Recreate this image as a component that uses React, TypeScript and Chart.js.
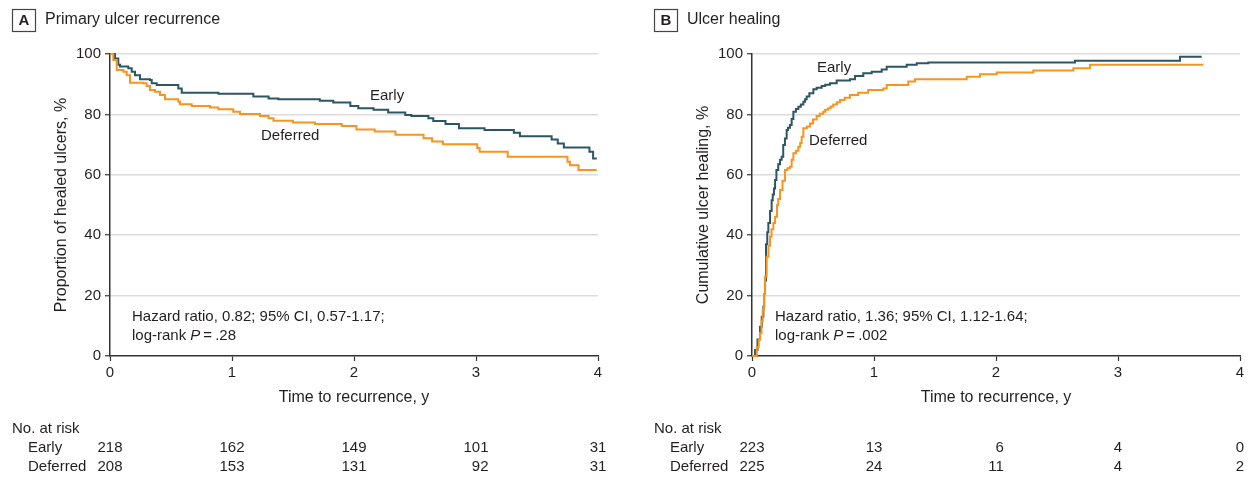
import React, { useEffect, useRef } from 'react';
import { Chart, registerables } from 'chart.js';

Chart.register(...registerables);

const FONT = "'Liberation Sans', Arial, sans-serif";
const TEXT = '#231f20';
const EARLY_COLOR = '#2d5664';
const DEFERRED_COLOR = '#f7941d';

// Panel A: primary ulcer recurrence (proportion of healed ulcers, %)
const recurEarlyT = [0, 0.041, 0.068, 0.082, 0.15, 0.178, 0.205, 0.246, 0.328, 0.342, 0.383, 0.56, 0.588, 0.888, 1.175, 1.3, 1.38, 1.72, 1.83, 1.97, 2.035, 2.16, 2.28, 2.42, 2.47, 2.61, 2.65, 2.75, 2.86, 3.07, 3.31, 3.36, 3.62, 3.67, 3.72, 3.93, 3.96, 3.99];
const recurEarlyV = [100, 98.5, 96.4, 95.9, 95.3, 94.1, 93.0, 91.6, 91.4, 90.3, 89.7, 88.6, 87.2, 86.8, 85.9, 85.3, 85.0, 84.5, 83.9, 82.8, 82.0, 81.5, 80.6, 79.8, 79.5, 78.7, 77.8, 76.8, 75.4, 74.8, 73.9, 72.8, 71.7, 70.4, 69.0, 67.6, 65.4, 65.4];
const recurDeferredT = [0, 0.027, 0.055, 0.11, 0.137, 0.164, 0.273, 0.3, 0.328, 0.369, 0.41, 0.45, 0.56, 0.574, 0.67, 0.82, 0.888, 1.01, 1.066, 1.23, 1.3, 1.34, 1.5, 1.68, 1.9, 2.02, 2.17, 2.34, 2.57, 2.64, 2.73, 3.01, 3.03, 3.26, 3.75, 3.77, 3.84, 3.99];
const recurDeferredV = [100, 98.0, 94.7, 94.1, 93.0, 90.5, 90.3, 89.4, 88.1, 87.5, 86.4, 85.0, 84.2, 83.4, 82.8, 82.3, 81.7, 80.9, 80.1, 79.5, 78.7, 77.9, 77.3, 76.8, 76.2, 75.0, 74.3, 73.3, 72.1, 71.0, 70.1, 68.9, 67.6, 66.0, 64.3, 63.2, 61.6, 61.6];

// Panel B: ulcer healing (cumulative, %)
const healEarlyT = [0, 0.025, 0.045, 0.066, 0.08, 0.093, 0.1, 0.107, 0.115, 0.125, 0.134, 0.148, 0.161, 0.17, 0.18, 0.189, 0.2, 0.215, 0.23, 0.243, 0.256, 0.27, 0.284, 0.295, 0.311, 0.325, 0.339, 0.36, 0.38, 0.4, 0.421, 0.435, 0.448, 0.47, 0.503, 0.53, 0.571, 0.6, 0.639, 0.694, 0.803, 0.844, 0.912, 0.981, 1.063, 1.104, 1.268, 1.35, 1.445, 2.647, 3.508, 3.686];
const healEarlyV = [0, 2, 5.5, 9.7, 13, 16.3, 20.5, 25, 37, 41, 44, 48, 51.6, 53.5, 55.5, 58.3, 61.6, 63.5, 65, 66, 69.9, 72, 74.8, 75.6, 76.5, 78.5, 80.9, 81.8, 82.5, 83.3, 84.2, 85, 85.9, 87, 88.3, 88.8, 89.4, 89.8, 90.3, 91.2, 91.6, 92.7, 93.6, 94.1, 94.9, 95.8, 96.4, 96.9, 97.2, 97.8, 99.1, 99.1];
const healDeferredT = [0, 0.039, 0.055, 0.066, 0.078, 0.088, 0.098, 0.107, 0.12, 0.135, 0.148, 0.16, 0.175, 0.189, 0.205, 0.215, 0.23, 0.25, 0.27, 0.29, 0.311, 0.325, 0.339, 0.36, 0.38, 0.395, 0.407, 0.421, 0.45, 0.475, 0.5, 0.53, 0.555, 0.584, 0.6, 0.625, 0.645, 0.666, 0.695, 0.721, 0.76, 0.803, 0.871, 0.953, 1.076, 1.104, 1.281, 1.336, 1.76, 1.869, 2.006, 2.306, 2.634, 2.77, 3.699];
const healDeferredV = [0, 3, 5.5, 7.6, 11.5, 15.2, 20.5, 26.3, 32.9, 36.5, 39.5, 42, 44, 46.1, 50, 52, 55, 58, 61.6, 62.2, 62.7, 65, 67.1, 68, 69.3, 70.5, 72.6, 75.4, 76, 77.0, 78.3, 79.5, 80.2, 80.9, 81.5, 82.0, 82.6, 83.3, 84, 84.8, 85.5, 86.4, 87.2, 88.1, 88.6, 89.7, 90.9, 91.6, 92.5, 93.3, 93.9, 94.5, 95.3, 96.4, 96.4];

const riskTimes = [0, 1, 2, 3, 4];
const riskRecurEarly = [218, 162, 149, 101, 31];
const riskRecurDeferred = [208, 153, 131, 92, 31];
const riskHealEarly = [223, 13, 6, 4, 0];
const riskHealDeferred = [225, 24, 11, 4, 2];

type PanelProps = {
  left: number;
  width: number;
  plotLeft: number;
  plotRight: number;
  letter: string;
  title: string;
  yTitle: string;
  yTitleX: number;
  earlyT: number[];
  earlyV: number[];
  deferredT: number[];
  deferredV: number[];
  earlyLabel: [number, number];
  deferredLabel: [number, number];
  hr: string;
  pText: string;
  noteX: number;
  riskEarly: number[];
  riskDeferred: number[];
  boxX: number;
};

const H = 492;
const PLOT_TOP = 54;
const PLOT_BOTTOM = 356;
const X_AXIS_H = 40;

function Panel(p: PanelProps) {
  const ref = useRef<HTMLCanvasElement | null>(null);
  useEffect(() => {
    if (!ref.current) return;
    const L = p.left;
    const decor = {
      id: 'decor',
      afterDraw(chart: any) {
        const ctx = chart.ctx as CanvasRenderingContext2D;
        const xs = chart.scales.x;
        ctx.save();
        ctx.fillStyle = TEXT;
        ctx.textBaseline = 'middle';
        // title box
        ctx.strokeStyle = '#444';
        ctx.lineWidth = 1.2;
        ctx.strokeRect(p.boxX - L + 0.5, 9.5, 23, 22);
        ctx.font = `bold 15px ${FONT}`;
        ctx.textAlign = 'center';
        ctx.fillText(p.letter, p.boxX - L + 12, 21);
        ctx.font = `16px ${FONT}`;
        ctx.textAlign = 'left';
        ctx.fillText(p.title, p.boxX - L + 33, 20);
        // axis titles
        ctx.textAlign = 'center';
        ctx.fillText('Time to recurrence, y', (p.plotLeft + p.plotRight) / 2 - L, 398);
        ctx.save();
        ctx.translate(p.yTitleX - L, (PLOT_TOP + PLOT_BOTTOM) / 2);
        ctx.rotate(-Math.PI / 2);
        ctx.fillText(p.yTitle, 0, 0);
        ctx.restore();
        // curve labels
        ctx.font = `15px ${FONT}`;
        ctx.textAlign = 'left';
        ctx.fillText('Early', p.earlyLabel[0] - L, p.earlyLabel[1]);
        ctx.fillText('Deferred', p.deferredLabel[0] - L, p.deferredLabel[1]);
        // annotation
        ctx.fillText(p.hr, p.noteX - L, 317);
        let x = p.noteX - L;
        const part1 = 'log-rank ';
        ctx.fillText(part1, x, 336);
        x += ctx.measureText(part1).width;
        ctx.font = `italic 15px ${FONT}`;
        ctx.fillText('P', x, 336);
        x += ctx.measureText('P').width;
        ctx.font = `15px ${FONT}`;
        ctx.fillText('\u2009=\u2009' + p.pText, x, 336);
        // risk table
        ctx.fillText('No. at risk', p.boxX - L, 429);
        ctx.fillText('Early', p.boxX - L + 16, 448);
        ctx.fillText('Deferred', p.boxX - L + 16, 467);
        ctx.textAlign = 'right';
        riskTimes.forEach((t, i) => {
          const a = String(p.riskEarly[i]);
          const b = String(p.riskDeferred[i]);
          const w = Math.max(ctx.measureText(a).width, ctx.measureText(b).width);
          const right = xs.getPixelForValue(t) + w / 2;
          ctx.fillText(a, right, 448);
          ctx.fillText(b, right, 467);
        });
        ctx.restore();
      },
    };
    const mk = (t: number[], v: number[]) => t.map((tt, i) => ({ x: tt, y: v[i] }));
    const chart = new Chart(ref.current, {
      type: 'line',
      data: {
        datasets: [
          {
            data: mk(p.deferredT, p.deferredV),
            borderColor: DEFERRED_COLOR,
            borderWidth: 2,
            pointRadius: 0,
            stepped: 'before',
            fill: false,
            clip: 6,
          } as any,
          {
            data: mk(p.earlyT, p.earlyV),
            borderColor: EARLY_COLOR,
            borderWidth: 2,
            pointRadius: 0,
            stepped: 'before',
            fill: false,
            clip: 6,
          } as any,
        ],
      },
      options: {
        animation: false,
        responsive: false,
        events: [],
        layout: {
          padding: {
            left: 0,
            right: p.width - (p.plotRight - L),
            top: PLOT_TOP,
            bottom: H - PLOT_BOTTOM - X_AXIS_H,
          },
        },
        plugins: { legend: { display: false }, tooltip: { enabled: false }, title: { display: false } },
        scales: {
          x: {
            type: 'linear',
            min: 0,
            max: 4,
            afterFit: (s: any) => {
              s.height = X_AXIS_H;
            },
            ticks: { stepSize: 1, color: TEXT, font: { family: FONT, size: 15 }, padding: 3 },
            grid: { drawOnChartArea: false, tickLength: 5, tickColor: '#333', tickWidth: 1.2 },
            border: { color: '#333', width: 1.5 },
          },
          y: {
            type: 'linear',
            min: 0,
            max: 100,
            afterFit: (s: any) => {
              s.width = p.plotLeft - L;
            },
            ticks: { stepSize: 20, color: TEXT, font: { family: FONT, size: 15 }, padding: 4 },
            grid: {
              color: (c: any) => (c.tick && c.tick.value === 0 ? 'rgba(0,0,0,0)' : '#dcdcdc'),
              lineWidth: 1.5,
              tickLength: 5,
              tickColor: '#333',
              tickWidth: 1.2,
            },
            border: { color: '#333', width: 1.5 },
          },
        },
      },
      plugins: [decor],
    } as any);
    return () => chart.destroy();
  }, []);
  return (
    <canvas
      ref={ref}
      width={p.width}
      height={H}
      style={{ position: 'absolute', left: p.left, top: 0, width: p.width, height: H }}
    />
  );
}

export default function App() {
  return (
    <div style={{ position: 'absolute', left: 0, top: 0, width: 1248, height: 492, background: '#fff', overflow: 'hidden' }}>
      <Panel
        left={0}
        width={624}
        plotLeft={110}
        plotRight={598}
        letter="A"
        title="Primary ulcer recurrence"
        yTitle="Proportion of healed ulcers, %"
        yTitleX={62}
        earlyT={recurEarlyT}
        earlyV={recurEarlyV}
        deferredT={recurDeferredT}
        deferredV={recurDeferredV}
        earlyLabel={[370, 96]}
        deferredLabel={[261, 136]}
        hr="Hazard ratio, 0.82; 95% CI, 0.57-1.17;"
        pText=".28"
        noteX={132}
        riskEarly={riskRecurEarly}
        riskDeferred={riskRecurDeferred}
        boxX={12}
      />
      <Panel
        left={624}
        width={624}
        plotLeft={752}
        plotRight={1240}
        letter="B"
        title="Ulcer healing"
        yTitle="Cumulative ulcer healing, %"
        yTitleX={704}
        earlyT={healEarlyT}
        earlyV={healEarlyV}
        deferredT={healDeferredT}
        deferredV={healDeferredV}
        earlyLabel={[817, 68]}
        deferredLabel={[809, 141]}
        hr="Hazard ratio, 1.36; 95% CI, 1.12-1.64;"
        pText=".002"
        noteX={775}
        riskEarly={riskHealEarly}
        riskDeferred={riskHealDeferred}
        boxX={654}
      />
    </div>
  );
}
